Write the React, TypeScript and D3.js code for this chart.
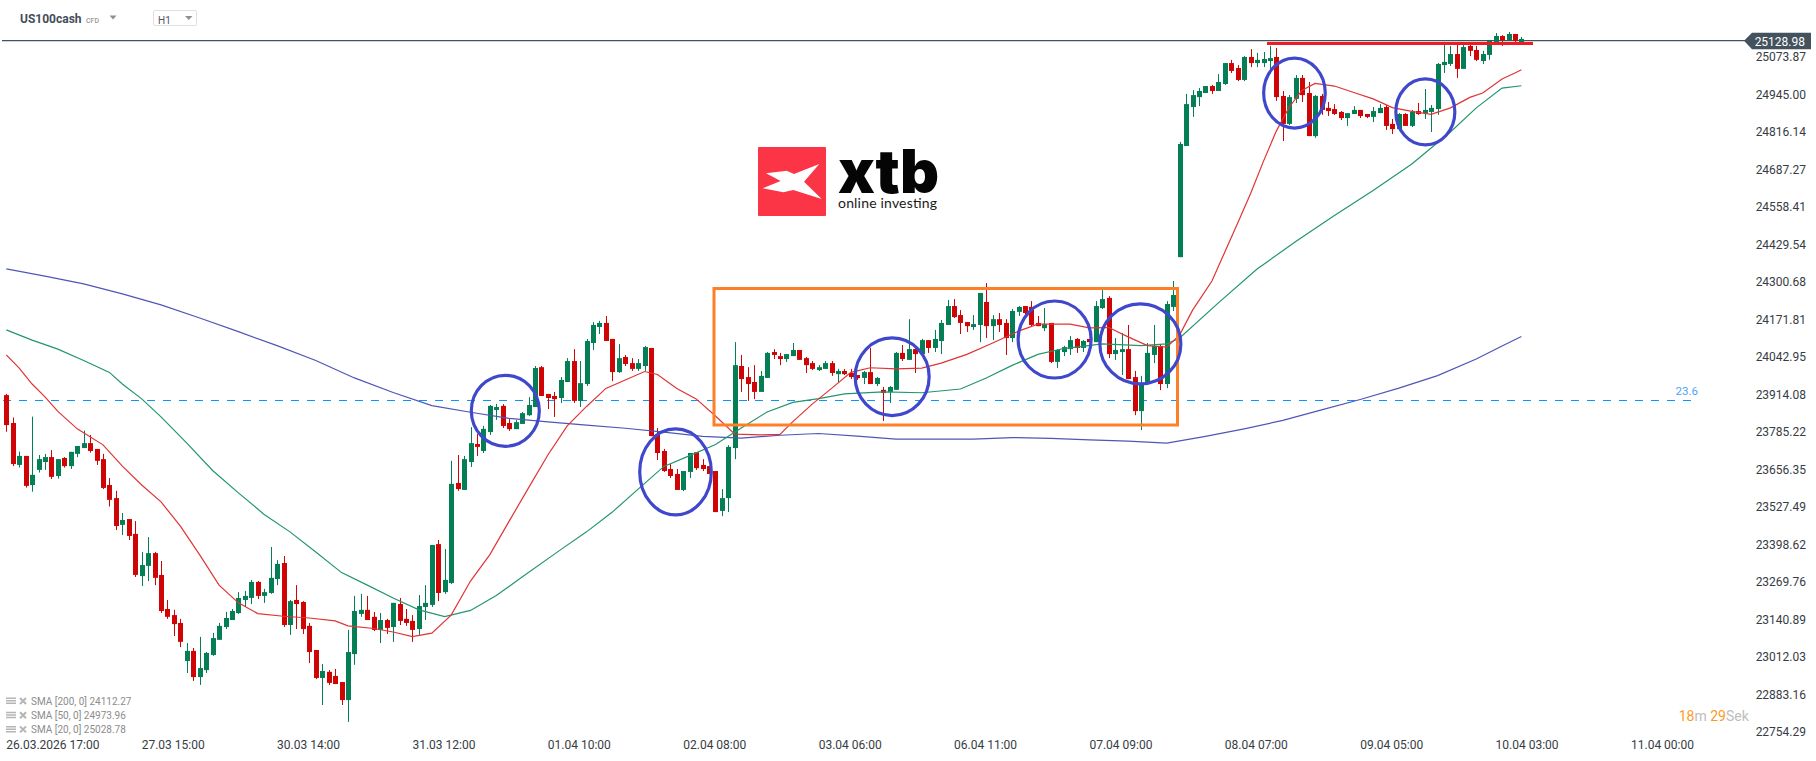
import * as d3 from "d3";

const opens = [
  23911,23815,23671,23702,23602,23654,23681,23698,23633,23695,
  23667,23709,23729,23746,23726,23691,23602,23557,23465,23485,
  23434,23289,23324,23368,23293,23176,23155,23128,22997,23032,
  22942,22966,23018,23070,23114,23138,23162,23207,23214,23269,
  23221,23231,23279,23334,23121,23207,23200,23118,23035,22939,
  22960,22946,22925,22863,23021,23159,23173,23149,23104,23138,
  23114,23193,23142,23135,23107,23183,23190,23399,23234,23265,
  23609,23585,23681,23743,23719,23784,23860,23874,23815,23794,
  23812,23842,23870,24007,23915,23908,23901,23956,24028,23891,
  23949,24090,24145,24159,24104,23990,24042,24021,24001,24011,
  24073,23777,23719,23657,23640,23585,23647,23715,23671,23667,
  23650,23513,23557,23729,24011,23973,23956,23922,23970,24059,
  24045,24035,24045,24066,24038,24021,23997,24001,24021,23983,
  23994,23987,23980,23970,23990,23949,23929,23922,23929,24056,
  24032,24069,24052,24100,24073,24097,24152,24217,24186,24162,
  24145,24152,24231,24148,24172,24159,24107,24197,24217,24214,
  24159,24141,24159,24025,24059,24069,24104,24073,24104,24093,
  24210,24245,24052,24059,24069,23973,23856,23952,24049,24080,
  23949,24214,24385,24767,24901,24935,24949,24973,24956,24980,
  25052,25035,24994,25073,25052,25052,25059,25073,24939,24843,
  24929,25001,24949,24801,24939,24898,24894,24884,24863,24877,
  24891,24877,24867,24880,24901,24843,24825,24877,24836,24887,
  24880,24884,24894,25045,25049,25083,25032,25111,25097,25059,
  25080,25124,25145,25131,25152,25124,
];

const closes = [
  23808,23674,23702,23599,23637,23691,23698,23630,23691,23667,
  23716,23736,23746,23719,23685,23592,23551,23461,23482,23427,
  23293,23327,23368,23283,23169,23149,23124,23063,23032,22942,
  22973,23025,23076,23118,23145,23169,23214,23221,23269,23221,
  23234,23283,23331,23121,23203,23193,23107,23028,22939,22963,
  22922,22918,22863,23028,23169,23173,23138,23104,23138,23111,
  23197,23135,23128,23104,23186,23197,23396,23231,23276,23606,
  23588,23691,23746,23733,23795,23874,23870,23805,23794,23818,
  23849,23877,24004,23908,23901,23897,23963,24028,23891,23952,
  24097,24152,24159,24097,23990,24038,24018,24001,24021,24076,
  23770,23712,23650,23633,23585,23650,23712,23660,23657,23640,
  23509,23557,23733,24014,23966,23949,23922,23977,24056,24049,
  24035,24052,24066,24032,24014,24001,24007,24021,23987,23994,
  23983,23973,23969,23990,23949,23970,23918,23939,24056,24035,
  24069,24052,24100,24073,24104,24159,24217,24179,24159,24148,
  24155,24262,24148,24172,24152,24107,24200,24214,24193,24152,
  24148,24155,24025,24066,24076,24100,24073,24097,24093,24217,
  24241,24052,24066,24069,23966,23856,23946,24056,24080,23949,
  24224,24255,24774,24911,24942,24956,24973,24956,24987,25052,
  25025,24994,25073,25052,25063,25066,25069,24935,24843,24935,
  25001,24942,24801,24939,24891,24887,24877,24863,24880,24891,
  24870,24867,24887,24898,24836,24825,24877,24836,24884,24877,
  24891,24898,25049,25056,25083,25032,25107,25094,25063,25083,
  25128,25145,25131,25152,25128,25135,
];

const highs = [
  23915,23834,23717,23702,23837,23705,23709,23722,23691,23698,
  23716,23736,23789,23774,23726,23709,23626,23582,23506,23485,
  23478,23372,23423,23372,23341,23207,23173,23142,23059,23042,
  23080,23028,23094,23128,23166,23176,23234,23238,23276,23272,
  23245,23389,23344,23358,23207,23258,23203,23128,23035,22987,
  22966,22970,22925,23104,23221,23228,23221,23166,23162,23142,
  23197,23214,23176,23155,23224,23258,23396,23413,23382,23685,
  23705,23702,23801,23777,23805,23877,23881,23880,23829,23825,
  23853,23904,24011,24011,23915,23922,23973,24038,24069,24028,
  24104,24162,24166,24183,24104,24086,24049,24038,24035,24080,
  24073,23798,23726,23674,23657,23650,23712,23715,23691,23667,
  23650,23588,23739,24093,24049,24007,24014,23994,24059,24069,
  24056,24052,24090,24066,24042,24028,24014,24028,24028,24001,
  24001,24001,23980,23994,24073,23973,23939,23942,24059,24083,
  24172,24073,24104,24100,24135,24169,24238,24241,24203,24162,
  24186,24262,24296,24186,24193,24172,24207,24217,24217,24234,
  24183,24210,24159,24069,24080,24114,24107,24100,24104,24234,
  24272,24251,24107,24124,24152,23994,23977,24090,24152,24086,
  24234,24303,24781,24946,24959,24966,24973,24977,25014,25052,
  25063,25045,25076,25100,25087,25090,25111,25104,24956,24942,
  25011,25011,24987,24942,24946,24918,24911,24887,24880,24904,
  24891,24877,24901,24911,24908,24860,24880,24880,24891,24915,
  24963,24908,25052,25114,25111,25114,25114,25124,25111,25094,
  25131,25155,25148,25159,25152,25142,
];

const lows = [
  23785,23667,23662,23593,23579,23645,23654,23623,23624,23662,
  23657,23698,23729,23713,23671,23588,23528,23447,23430,23413,
  23286,23255,23272,23258,23162,23142,23083,23045,22956,22929,
  22915,22956,23015,23070,23107,23138,23159,23183,23193,23210,
  23197,23228,23258,23114,23087,23107,23090,22990,22935,22846,
  22915,22918,22846,22788,22984,23149,23138,23100,23059,23090,
  23063,23121,23118,23063,23087,23138,23183,23203,23228,23262,
  23582,23585,23664,23702,23712,23774,23826,23798,23788,23794,
  23812,23839,23870,23908,23863,23836,23884,23956,23884,23870,
  23942,24066,24121,24097,23959,23987,24011,23994,23994,23994,
  23770,23688,23647,23626,23585,23581,23626,23654,23650,23640,
  23509,23495,23509,23691,23922,23891,23897,23922,23970,24035,
  24014,24025,24045,24032,23987,23997,23994,24001,23977,23956,
  23980,23966,23963,23949,23949,23942,23822,23884,23929,24028,
  24032,23987,24052,24056,24059,24052,24152,24176,24121,24128,
  24135,24093,24107,24100,24128,24049,24093,24183,24186,24148,
  24148,24131,24021,24004,24045,24049,24056,24059,24093,24093,
  24207,24038,24032,23980,23966,23842,23791,23952,24021,23928,
  23935,24200,24385,24767,24867,24904,24949,24946,24956,24977,
  25018,24990,24990,25038,25038,25038,25018,24922,24784,24839,
  24915,24918,24801,24795,24874,24870,24874,24856,24836,24877,
  24863,24863,24849,24880,24822,24808,24825,24836,24832,24874,
  24860,24815,24874,25018,25042,25001,25032,25076,25059,25049,
  25063,25124,25111,25131,25124,25120,
];

// moving averages, read at a bar index then the value at that bar
const sma200Bars = [0,6,12,18,24,30,36,42,48,54,60,66,72,78,84,90,96,102,108,114,120,126,132,138,150,156,162,168,174,180,186,192,198,204,210,216,222,228,232,235];
const sma200 = [24345,24320,24293,24259,24221,24176,24129,24081,24030,23970,23920,23875,23852,23831,23819,23808,23797,23784,23769,23763,23773,23779,23770,23760,23760,23765,23762,23757,23753,23746,23769,23795,23824,23860,23896,23935,23978,24035,24080,24112.27];

const sma50Bars = [0,4,8,12,16,18,21,24,28,32,36,40,44,48,52,56,60,64,68,72,76,80,86,90,94,98,102,106,110,114,118,122,126,130,136,142,148,152,156,160,164,170,176,180,182,188,194,200,206,212,218,224,228,232,235];
const sma50 = [24135,24100,24069,24030,23989,23949,23898,23836,23746,23652,23575,23501,23441,23372,23301,23258,23214,23173,23150,23171,23222,23286,23380,23441,23509,23588,23666,23703,23741,23798,23853,23886,23899,23915,23922,23919,23932,23970,24013,24051,24071,24087,24081,24087,24107,24228,24344,24439,24528,24614,24705,24815,24898,24966,24973.96];

const sma20Bars = [0,2,4,6,8,11,15,18,21,24,27,30,33,36,39,43,47,51,53,57,60,63,66,69,72,75,78,81,84,87,90,93,96,99,101,104,107,110,113,117,120,122,125,128,131,134,138,142,145,149,153,157,160,165,168,171,174,177,180,182,184,187,189,191,193,195,197,199,201,203,206,209,212,215,218,221,224,227,229,232,234,235];
const sma20 = [24049,24004,23949,23905,23855,23795,23740,23667,23602,23544,23461,23362,23258,23197,23160,23151,23145,23135,23118,23109,23097,23081,23093,23155,23272,23363,23478,23592,23705,23805,23872,23934,23963,23992,23982,23934,23898,23839,23777,23774,23776,23820,23880,23934,23989,24005,24001,24004,24021,24051,24090,24131,24155,24155,24142,24143,24111,24081,24076,24118,24203,24303,24403,24502,24604,24715,24819,24901,24959,24982,24973,24951,24929,24899,24886,24876,24898,24934,24949,24997,25018,25028.78];

const priceTicks = ["25073.87","24945.00","24816.14","24687.27","24558.41","24429.54","24300.68","24171.81","24042.95","23914.08","23785.22","23656.35","23527.49","23398.62","23269.76","23140.89","23012.03","22883.16","22754.29"];
const timeTickBars = [0,21,42,63,84,105,126,147,168,189,210,231,252];
const timeTicks = ["26.03.2026 17:00","27.03 15:00","30.03 14:00","31.03 12:00","01.04 10:00","02.04 08:00","03.04 06:00","06.04 11:00","07.04 09:00","08.04 07:00","09.04 05:00","10.04 03:00","11.04 00:00"];
const legendRows = ["SMA [200, 0] 24112.27","SMA [50, 0] 24973.96","SMA [20, 0] 25028.78"];

const lastPrice = 25128.98;
const fibPrice = 23893;
const fibLabel = "23.6";
const resistancePrice = 25119;

// hand drawn marks on top of the chart: bar, price, radius in px
const circles = [
  { bar: 77.4, price: 23857, rx: 34, ry: 35.5 },
  { bar: 103.8, price: 23647, rx: 35.8, ry: 43 },
  { bar: 137.4, price: 23974, rx: 37, ry: 38.8 },
  { bar: 162.6, price: 24102, rx: 36.5, ry: 38.5 },
  { bar: 175.9, price: 24087, rx: 40.5, ry: 40 },
  { bar: 199.8, price: 24949, rx: 30.8, ry: 35 },
  { bar: 220.1, price: 24884, rx: 29.5, ry: 33 },
];

const GREEN = "#047f55";
const RED = "#cf0404";
const FONT = "Roboto, sans-serif";

const x = d3.scaleLinear().domain([0, 235]).range([6.3, 1521.4]);
const y = d3.scaleLinear().domain([22754.29, 25073.87]).range([731.7, 56.7]);

const smaPath = (bars: number[], values: number[]) =>
  d3
    .line<number>()
    .x((b) => x(b))
    .y((_, i) => y(values[i]))(bars) ?? "";

export default function App() {
  const lastY = y(lastPrice);
  const fibY = Math.round(y(fibPrice)) + 0.5;
  const resY = y(resistancePrice);

  return (
    <svg
      width={1816}
      height={761}
      style={{ position: "absolute", left: 0, top: 0, background: "#fff" }}
      fontFamily={FONT}
    >
      {/* toolbar */}
      <text x={20} y={23} fontSize={12} fontWeight={700} fill="#434e59">US100cash</text>
      <text x={86} y={22.5} fontSize={7} fontWeight={500} fill="#999">CFD</text>
      <path d="M109.5,15.5h7l-3.5,4z" fill="#8f8f8f" />
      <rect x={153.5} y={10.5} width={43} height={15} rx={1.5} fill="#fff" stroke="#e0e0e0" />
      <text x={158} y={24} fontSize={10} fill="#555">H1</text>
      <path d="M185,16h7.5l-3.75,4z" fill="#8f8f8f" />

      {/* logo */}
      <rect x={758} y={147} width={68} height={69} rx={1} fill="#fb3545" />
      <path
        d="M766,173.3L786.7,170.7L794,174L819.3,164L804,181.7L821.7,199L793.3,190L783.3,192.3L762.7,188.3L780.7,181Z"
        fill="#fff"
      />
      <text x={838} y={193} fontFamily="Inter, sans-serif" fontSize={60} fontWeight={900} fill="#050505" textLength={101} lengthAdjust="spacingAndGlyphs">xtb</text>
      <text x={838} y={208} fontFamily="Lato, sans-serif" fontSize={14} fontWeight={400} fill="#1a1a1a" textLength={99}>online investing</text>

      {/* price and fib lines */}
      <line x1={2} x2={1745} y1={lastY} y2={lastY} stroke="#44525e" strokeWidth={1.2} />
      <line x1={3} x2={1699} y1={fibY} y2={fibY} stroke="#0a94ff" strokeWidth={1} strokeDasharray="8 8" />
      <text x={1698} y={395} textAnchor="end" fontSize={11.5} fill="#4aa5f5">{fibLabel}</text>

      {/* candles */}
      <g>
        {opens.map((open, i) => {
          const close = closes[i];
          const color = close >= open ? GREEN : RED;
          const top = y(Math.max(open, close));
          const bottom = y(Math.min(open, close));
          const cx = Math.round(x(i)) + 0.5;
          return (
            <g key={i}>
              <line x1={cx} x2={cx} y1={y(highs[i])} y2={y(lows[i])} stroke={color} strokeWidth={1} />
              <rect x={cx - 2.5} y={top} width={5} height={Math.max(bottom - top, 1)} fill={color} />
            </g>
          );
        })}
      </g>

      {/* moving averages */}
      <path d={smaPath(sma200Bars, sma200)} fill="none" stroke="#4f56b5" strokeWidth={1.2} />
      <path d={smaPath(sma50Bars, sma50)} fill="none" stroke="#23966d" strokeWidth={1.2} />
      <path d={smaPath(sma20Bars, sma20)} fill="none" stroke="#e03434" strokeWidth={1.2} />

      {/* drawings */}
      <rect x={714} y={288.5} width={463.5} height={136.5} fill="none" stroke="#ff7f27" strokeWidth={3} />
      {circles.map((c, i) => (
        <ellipse key={i} cx={x(c.bar)} cy={y(c.price)} rx={c.rx} ry={c.ry} fill="none" stroke="#3f48cc" strokeWidth={3.2} />
      ))}
      <line x1={1267} x2={1533} y1={resY} y2={resY} stroke="#ed1c24" strokeWidth={3} />

      {/* price axis */}
      {priceTicks.map((t) => (
        <text key={t} x={1806} y={y(+t)} dy="0.36em" textAnchor="end" fontSize={12} fill="#363c44">{t}</text>
      ))}
      <path
        d={`M1744,${lastY}L1752,${lastY - 8}H1811V${lastY + 8.5}H1752Z`}
        fill="#44525e"
      />
      <text x={1805} y={lastY} dy="0.42em" textAnchor="end" fontSize={12} fill="#fff">{lastPrice.toFixed(2)}</text>

      {/* time axis */}
      {timeTicks.map((t, i) => (
        <text key={t} x={x(timeTickBars[i])} y={749} fontSize={12} fill="#363c44">{t}</text>
      ))}

      {/* indicator legend */}
      {legendRows.map((t, i) => {
        const ly = 701 + i * 14.2;
        return (
          <g key={t}>
            <path d={`M6,${ly - 3.5}h10v1.5h-10zM6,${ly - 1}h10v1.5h-10zM6,${ly + 1.5}h10v1.5h-10z`} fill="#b5b5b5" />
            <path d={`M20,${ly - 3}l6,6M26,${ly - 3}l-6,6`} stroke="#b5b5b5" strokeWidth={2} />
            <text x={31} y={ly + 4} fontSize={10} fill="#8c8c8c">{t}</text>
          </g>
        );
      })}

      {/* countdown */}
      <text x={1678.7} y={721} fontSize={14} fill="#bdbdbd">
        <tspan fill="#ff9a1f">18</tspan>m <tspan fill="#ff9a1f">29</tspan>Sek
      </text>
    </svg>
  );
}
